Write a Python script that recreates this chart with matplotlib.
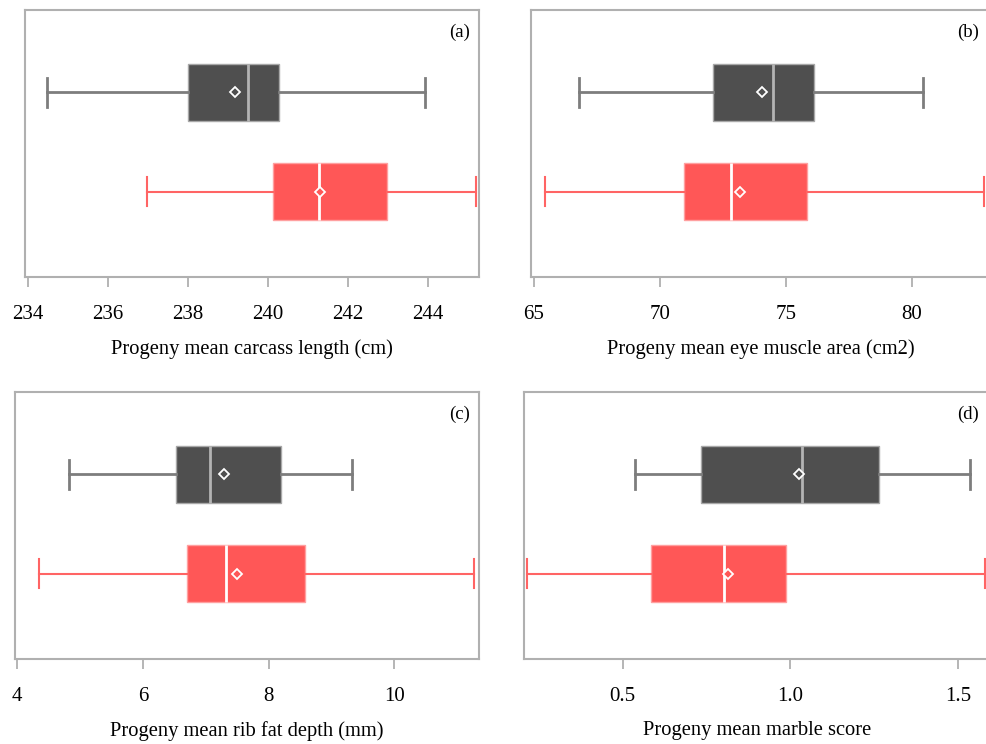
import matplotlib
matplotlib.use("Agg")
import matplotlib.pyplot as plt

plt.rcParams["font.family"] = ["Liberation Serif", "DejaVu Serif"]

# Panel info
panel_tags = ["(a)", "(b)", "(c)", "(d)"]
x_labels = [
    "Progeny mean carcass length (cm)",
    "Progeny mean eye muscle area (cm2)",
    "Progeny mean rib fat depth (mm)",
    "Progeny mean marble score",
]
x_ticks = [
    [234, 236, 238, 240, 242, 244],
    [65, 70, 75, 80],
    [4, 6, 8, 10],
    [0.5, 1.0, 1.5],
]
tick_fmt = ["{:.0f}", "{:.0f}", "{:.0f}", "{:.1f}"]
x_limits = [(233.93, 245.28), (64.9, 83.1), (3.963, 11.345), (0.2057, 1.595)]

# Box statistics (dark group on top, red group below)
dark_whislo = [234.48, 66.81, 4.82, 0.538]
dark_q1 = [238.00, 72.13, 6.53, 0.733]
dark_med = [239.51, 74.48, 7.06, 1.035]
dark_q3 = [240.29, 76.12, 8.20, 1.263]
dark_whishi = [243.94, 80.44, 9.33, 1.536]
dark_mean = [239.17, 74.05, 7.29, 1.025]

red_whislo = [236.98, 65.46, 4.35, 0.214]
red_q1 = [240.12, 70.98, 6.70, 0.583]
red_med = [241.27, 72.83, 7.32, 0.803]
red_q3 = [242.99, 75.83, 8.58, 0.988]
red_whishi = [245.20, 82.88, 11.27, 1.581]
red_mean = [241.31, 73.17, 7.50, 0.813]

W, H = 986, 744
# axes rectangles in pixels: left, top, right, bottom
rects = [(25, 10, 479, 277), (531, 10, 990, 277),
         (15, 392, 479, 659), (524, 392, 990, 659)]
tag_x = [460, 968, 460, 968]

styles = {
    "dark": dict(fill="#4f4f4f", edge="#a8a8a8", whisk="#7d7d7d", med="#b4b4b4", lw=2.0),
    "red": dict(fill="#ff5757", edge="#ffa0a0", whisk="#ff6464", med="#ffffff", lw=1.5),
}

fig = plt.figure(figsize=(W / 100, H / 100), dpi=100)
spine_col = "#b0b0b0"

for i in range(4):
    l, t, r, b = rects[i]
    ax = fig.add_axes([l / W, (H - b) / H, (r - l) / W, (b - t) / H])

    groups = [
        ("red", dict(whislo=red_whislo[i], q1=red_q1[i], med=red_med[i],
                     q3=red_q3[i], whishi=red_whishi[i], mean=red_mean[i], fliers=[])),
        ("dark", dict(whislo=dark_whislo[i], q1=dark_q1[i], med=dark_med[i],
                      q3=dark_q3[i], whishi=dark_whishi[i], mean=dark_mean[i], fliers=[])),
    ]
    for pos, (name, st) in enumerate(groups):
        s = styles[name]
        ax.bxp([st], positions=[pos], widths=0.58, orientation="horizontal",
               patch_artist=True, showmeans=True,
               boxprops=dict(facecolor=s["fill"], edgecolor=s["edge"], linewidth=1.0),
               whiskerprops=dict(color=s["whisk"], linewidth=s["lw"]),
               capprops=dict(color=s["whisk"], linewidth=s["lw"]),
               medianprops=dict(color=s["med"], linewidth=2.0),
               meanprops=dict(marker="D", markersize=5, markerfacecolor=s["fill"],
                              markeredgecolor="white", markeredgewidth=1.3))

    ax.set_ylim(-0.86, 1.83)
    ax.set_xlim(*x_limits[i])
    ax.set_xticks(x_ticks[i])
    ax.set_xticklabels([tick_fmt[i].format(v) for v in x_ticks[i]], fontsize=15)
    ax.set_yticks([])
    ax.set_xlabel(x_labels[i], fontsize=14.8, labelpad=11)
    ax.tick_params(axis="x", length=7, width=1.3, color=spine_col, pad=13)
    for sp in ax.spines.values():
        sp.set_color(spine_col)
        sp.set_linewidth(1.5)
    ax.annotate(panel_tags[i], xy=(0, 1), xycoords="axes fraction",
                xytext=(tag_x[i] - l, -22), textcoords="offset pixels",
                ha="center", va="center", fontsize=13.5)

fig.savefig("out.png", dpi=100)
